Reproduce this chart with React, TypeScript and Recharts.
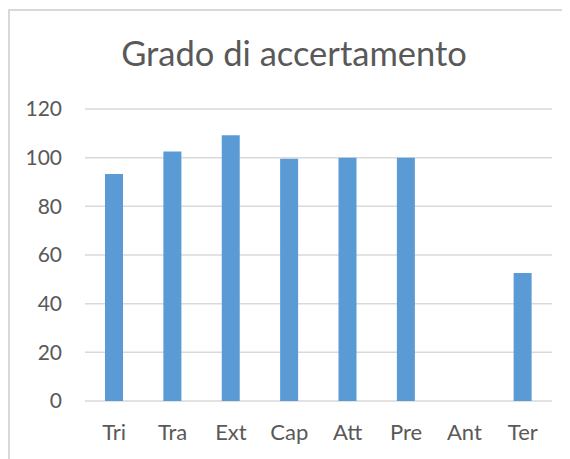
import { BarChart, Bar, XAxis, YAxis, CartesianGrid } from "recharts";

const categories = ["Tri", "Tra", "Ext", "Cap", "Att", "Pre", "Ant", "Ter"];
const values = [93.3, 102.5, 109.2, 99.6, 100, 100, 0, 52.6];
const yTicks = [0, 20, 40, 60, 80, 100, 120];

const data = categories.map((name, i) => ({ name, value: values[i] }));

const FONT = "Lato, 'Open Sans', sans-serif";
const TEXT = "#595959";

export default function App() {
  return (
    <div
      style={{
        position: "relative",
        top: 1,
        width: 562,
        height: 450,
        borderTop: "2px solid #d9d9d9",
        borderLeft: "2px solid #d9d9d9",
        background: "#fff",
      }}
    >
      <svg width={560} height={80} style={{ position: "absolute", left: 0, top: 0 }}>
        <text x={284} y={55} textAnchor="middle" fill={TEXT} fontFamily={FONT} fontSize={34.5}>
          Grado di accertamento
        </text>
      </svg>
      <BarChart
        width={560}
        height={448}
        data={data}
        margin={{ top: 98, right: 18, bottom: 18, left: 15 }}
      >
        <CartesianGrid vertical={false} stroke="#d9d9d9" strokeWidth={1.5} />
        <XAxis
          dataKey="name"
          axisLine={false}
          tickLine={false}
          tickSize={0}
          tickMargin={23}
          height={40}
          tick={{ fill: TEXT, fontSize: 22, fontFamily: FONT }}
        />
        <YAxis
          domain={[0, 120]}
          ticks={yTicks}
          axisLine={false}
          tickLine={false}
          tickSize={0}
          tickMargin={23}
          width={60}
          tick={{ fill: TEXT, fontSize: 21, fontFamily: FONT }}
        />
        <Bar dataKey="value" fill="#5b9bd5" barSize={18} isAnimationActive={false} />
      </BarChart>
    </div>
  );
}
